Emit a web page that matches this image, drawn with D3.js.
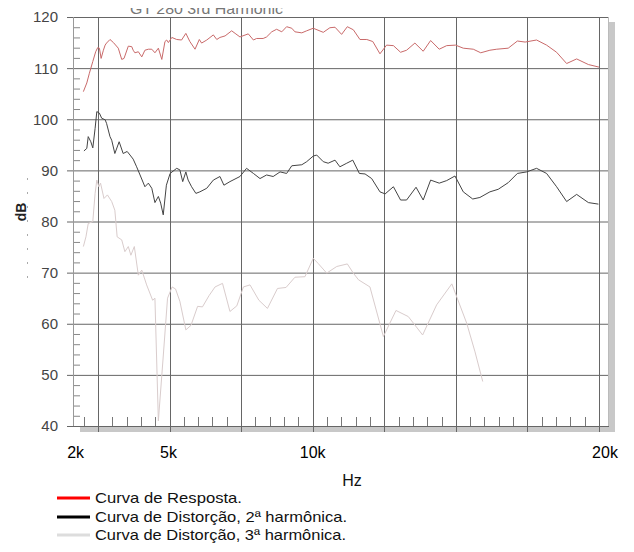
<!DOCTYPE html>
<html>
<head>
<meta charset="utf-8">
<script src="https://cdn.jsdelivr.net/npm/d3@7"></script>
<style>
  body { margin: 0; background: #fff; }
  text { font-family: "Liberation Sans", Arial, sans-serif; }
</style>
</head>
<body>
<div id="vis"></div>
<script>
// curve data (frequency in kHz, level in dB)
const respKhz = [1.99,2.11,2.2,2.32,2.42,2.49,2.55,2.61,2.69,2.75,2.8,2.92,3.04,3.21,3.33,3.41,3.56,3.68,3.73,3.79,3.91,4.03,4.14,4.26,4.38,4.49,4.61,4.73,4.84,4.9,4.96,5.08,5.25,5.42,5.57,5.71,5.89,6.04,6.12,6.3,6.53,6.65,6.76,6.94,7.17,7.29,7.46,7.75,7.93,8.04,8.27,8.39,8.57,8.74,8.92,9.09,9.27,9.38,9.62,9.79,10.02,10.37,10.6,10.78,11.01,11.21,11.42,11.65,11.89,12.1,12.35,12.58,12.82,13.07,13.28,13.57,13.86,14.12,14.42,14.68,14.99,15.26,15.61,15.87,16.19,16.43,16.83,17.15,17.42,17.82,18.17,18.52,18.87,19.22,19.63,20.0];
const respDb = [105.4,107.1,109.0,111.3,113.2,114.0,113.9,111.9,113.5,114.5,114.9,115.6,115.0,113.9,111.7,111.9,114.3,114.2,113.5,113.0,113.2,112.2,113.5,113.7,113.7,113.0,113.9,111.7,115.2,115.5,115.0,116.0,115.6,115.5,116.8,115.2,113.7,115.6,114.9,115.5,116.5,115.6,116.0,116.3,117.3,116.8,116.1,116.7,115.5,115.8,115.8,116.1,117.1,117.6,117.1,118.1,117.8,117.1,116.9,117.3,117.8,117.0,117.9,118.0,116.6,118.1,117.5,115.6,115.6,115.2,112.8,114.5,114.4,113.1,113.5,114.9,113.3,115.4,113.7,114.4,114.5,113.9,113.7,113.0,113.5,113.7,113.9,115.3,115.1,115.5,114.5,113.1,110.9,111.8,110.7,110.2];

const h2Khz = [2.01,2.11,2.16,2.25,2.32,2.40,2.46,2.55,2.63,2.75,2.80,2.92,2.98,3.09,3.24,3.38,3.52,3.62,3.73,3.85,3.97,4.14,4.26,4.38,4.49,4.61,4.69,4.78,4.89,5.02,5.25,5.36,5.46,5.57,5.65,5.77,5.92,6.06,6.30,6.53,6.76,6.90,7.11,7.46,7.69,7.93,8.16,8.39,8.62,8.86,9.09,9.27,9.62,9.79,10.02,10.14,10.37,10.54,10.78,10.95,11.19,11.40,11.63,11.83,12.06,12.35,12.53,12.82,13.07,13.28,13.61,13.86,14.12,14.42,14.68,14.97,15.26,15.59,15.84,16.19,16.48,16.83,17.15,17.47,17.82,18.17,18.52,18.87,19.22,19.63,19.98];
const h2Db = [93.8,94.3,96.6,95.6,94.4,98.2,101.5,101.2,100.2,99.9,99.2,96.6,95.9,93.3,95.6,93.3,93.7,93.0,92.2,90.7,89.1,86.8,87.5,86.5,83.7,84.9,83.6,81.3,87.1,89.4,90.4,90.1,87.8,89.7,88.1,86.8,85.5,85.8,86.5,88.1,88.8,87.1,87.8,88.8,90.4,89.4,88.4,89.1,88.8,89.7,89.4,90.9,91.1,91.7,92.8,93.0,91.7,91.4,92.0,90.7,91.4,92.0,89.4,89.3,88.4,85.8,85.4,86.8,84.2,84.2,86.7,84.2,88.1,87.5,88.0,88.9,85.8,84.4,84.7,85.8,86.3,87.6,89.4,89.7,90.4,89.4,86.8,83.9,85.3,83.7,83.4];

const h3Khz = [1.99,2.08,2.16,2.32,2.40,2.46,2.53,2.59,2.71,2.83,2.98,3.09,3.17,3.33,3.44,3.56,3.65,3.77,3.91,4.03,4.20,4.41,4.49,4.61,4.77,4.93,5.09,5.21,5.36,5.57,5.75,5.98,6.15,6.38,6.59,6.85,7.11,7.35,7.58,7.81,8.12,8.42,8.77,9.07,9.38,9.73,10.02,10.19,10.49,10.84,11.21,11.42,11.60,12.00,12.47,12.91,13.34,13.84,14.33,14.86,15.38,15.67,15.94];
const h3Db = [75.1,77.0,79.6,80.0,85.5,88.1,86.8,87.5,84.5,85.2,83.9,82.2,77.0,76.4,74.1,75.1,73.4,75.1,69.5,70.5,67.6,64.6,65.0,41.0,52.9,65.0,67.2,66.8,64.4,58.8,59.7,63.4,63.3,65.5,67.2,67.9,62.4,63.5,67.2,67.6,64.6,63.0,66.9,67.1,69.1,69.2,72.8,71.8,69.9,71.2,71.7,69.9,68.6,67.2,57.5,62.6,61.4,57.8,63.7,67.8,60.1,54.5,48.7];

// axis ticks
const yTicks = [40, 50, 60, 70, 80, 90, 100, 110, 120];
const xGrid = [2.5, 5, 7.5, 10, 12.5, 15, 17.5, 20];
const xTickVals = [2, 5, 10, 20];
const xTickLabels = ["2k", "5k", "10k", "20k"];

const legendNames = ["Curva de Resposta.", "Curva de Distorção, 2ª harmônica.", "Curva de Distorção, 3ª harmônica."];
const legendColors = ["#ff0000", "#000000", "#dddddd"];

let W = 634, H = 552;
let plot = { left: 73, right: 609, top: 17, bottom: 426 };

let svg = d3.select('#vis')
  .append('svg')
  .attr('width', W)
  .attr('height', H);

let x = d3.scaleLinear().domain([1.628, 20.35]).range([plot.left, plot.right]);
let y = d3.scaleLinear().domain([40, 120]).range([plot.bottom, plot.top]);

// drop shadow right & bottom
svg.append('rect').attr('x', plot.right).attr('y', plot.top + 5)
  .attr('width', 6).attr('height', plot.bottom - plot.top + 1).attr('fill', '#c8c8c8');
svg.append('rect').attr('x', plot.left + 7).attr('y', plot.bottom)
  .attr('width', plot.right - plot.left - 1).attr('height', 6).attr('fill', '#c8c8c8');

// plot background
svg.append('rect').attr('x', plot.left).attr('y', plot.top)
  .attr('width', plot.right - plot.left).attr('height', plot.bottom - plot.top)
  .attr('fill', '#fff');

// horizontal grid (extends left as major ticks)
svg.append('g').selectAll('line')
  .data(yTicks).enter().append('line')
  .attr('x1', plot.left - 6).attr('x2', plot.right)
  .attr('y1', d => y(d) + 0.5).attr('y2', d => y(d) + 0.5)
  .attr('stroke', '#666').attr('stroke-width', 1);

// y minor ticks every 2 dB
let yMinor = d3.range(40, 121, 2).filter(d => d % 10 != 0);
svg.append('g').selectAll('line')
  .data(yMinor).enter().append('line')
  .attr('x1', plot.left).attr('x2', plot.left + 7)
  .attr('y1', d => y(d) + 0.5).attr('y2', d => y(d) + 0.5)
  .attr('stroke', '#888').attr('stroke-width', 1);

// vertical grid (extends below the frame)
svg.append('g').selectAll('line')
  .data(xGrid).enter().append('line')
  .attr('x1', d => Math.round(x(d)) + 0.5).attr('x2', d => Math.round(x(d)) + 0.5)
  .attr('y1', plot.top).attr('y2', plot.bottom + 6)
  .attr('stroke', '#666').attr('stroke-width', 1);

// x minor ticks every 0.5k
let xMinor = d3.range(2, 20.01, 0.5).filter(d => Math.abs(d / 2.5 - Math.round(d / 2.5)) > 0.01);
svg.append('g').selectAll('line')
  .data(xMinor).enter().append('line')
  .attr('x1', d => Math.round(x(d)) + 0.5).attr('x2', d => Math.round(x(d)) + 0.5)
  .attr('y1', plot.bottom - 9).attr('y2', plot.bottom)
  .attr('stroke', '#777').attr('stroke-width', 1);

// frame left & right
svg.append('line').attr('x1', plot.left + 0.5).attr('x2', plot.left + 0.5)
  .attr('y1', plot.top).attr('y2', plot.bottom).attr('stroke', '#999');
svg.append('line').attr('x1', plot.right - 0.5).attr('x2', plot.right - 0.5)
  .attr('y1', plot.top).attr('y2', plot.bottom).attr('stroke', '#bbb');

// curves
let line = d3.line().x(d => x(d[0])).y(d => y(d[1]));
let curves = [
  { data: d3.zip(h3Khz, h3Db), color: '#d9cccc' },
  { data: d3.zip(h2Khz, h2Db), color: '#444' },
  { data: d3.zip(respKhz, respDb), color: '#c96a6a' }
];
curves.forEach(c => {
  svg.append('path')
    .datum(c.data)
    .attr('d', line)
    .attr('fill', 'none')
    .attr('stroke', c.color)
    .attr('stroke-width', 1)
    .attr('stroke-linejoin', 'round');
});

// y tick labels
svg.append('g').selectAll('text')
  .data(yTicks).enter().append('text')
  .attr('x', 58).attr('y', d => y(d))
  .attr('dy', '0.36em')
  .attr('text-anchor', 'end')
  .style('font-size', '15px')
  .style('fill', '#444')
  .text(d => d);

// x tick labels (outer ones sit a little outside their tick)
let xLabelShift = [-8, -1, 0, 6];
svg.append('g').selectAll('text')
  .data(xTickVals).enter().append('text')
  .attr('x', (d, i) => x(d) + xLabelShift[i]).attr('y', 458)
  .attr('text-anchor', 'middle')
  .style('font-size', '16px')
  .style('fill', '#000')
  .text((d, i) => xTickLabels[i]);

// axis labels
svg.append('text')
  .attr('x', 352).attr('y', 486)
  .attr('text-anchor', 'middle')
  .style('font-size', '16px')
  .style('fill', '#111')
  .text('Hz');

svg.append('text')
  .attr('transform', 'translate(26,212) rotate(-90)')
  .attr('text-anchor', 'middle')
  .style('font-size', '14px')
  .style('font-weight', 'bold')
  .style('fill', '#222')
  .text('dB');

// faint dashed line left of the dB label
svg.append('line').attr('x1', 27.5).attr('x2', 27.5).attr('y1', 178).attr('y2', 287)
  .attr('stroke', '#aaa').attr('stroke-dasharray', '2,12');

// title, cut off at the top in the original
svg.append('clipPath').attr('id', 'titleClip')
  .append('rect').attr('x', 0).attr('y', 8).attr('width', W).attr('height', 9);
svg.append('text')
  .attr('clip-path', 'url(#titleClip)')
  .attr('x', 130).attr('y', 14)
  .attr('textLength', 153)
  .attr('lengthAdjust', 'spacingAndGlyphs')
  .style('font-size', '15px')
  .style('fill', '#777')
  .text('GT 280 3rd Harmonic');

// legend
let legendY = [498, 517, 535];
let legendW = [147, 252, 251];
legendNames.forEach((name, i) => {
  svg.append('line')
    .attr('x1', 57).attr('x2', 90)
    .attr('y1', legendY[i]).attr('y2', legendY[i])
    .attr('stroke', legendColors[i]).attr('stroke-width', 3);
  svg.append('text')
    .attr('x', 95).attr('y', legendY[i] + 5)
    .attr('textLength', legendW[i])
    .attr('lengthAdjust', 'spacingAndGlyphs')
    .style('font-size', '15px')
    .style('fill', '#111')
    .text(name);
});
</script>
</body>
</html>
